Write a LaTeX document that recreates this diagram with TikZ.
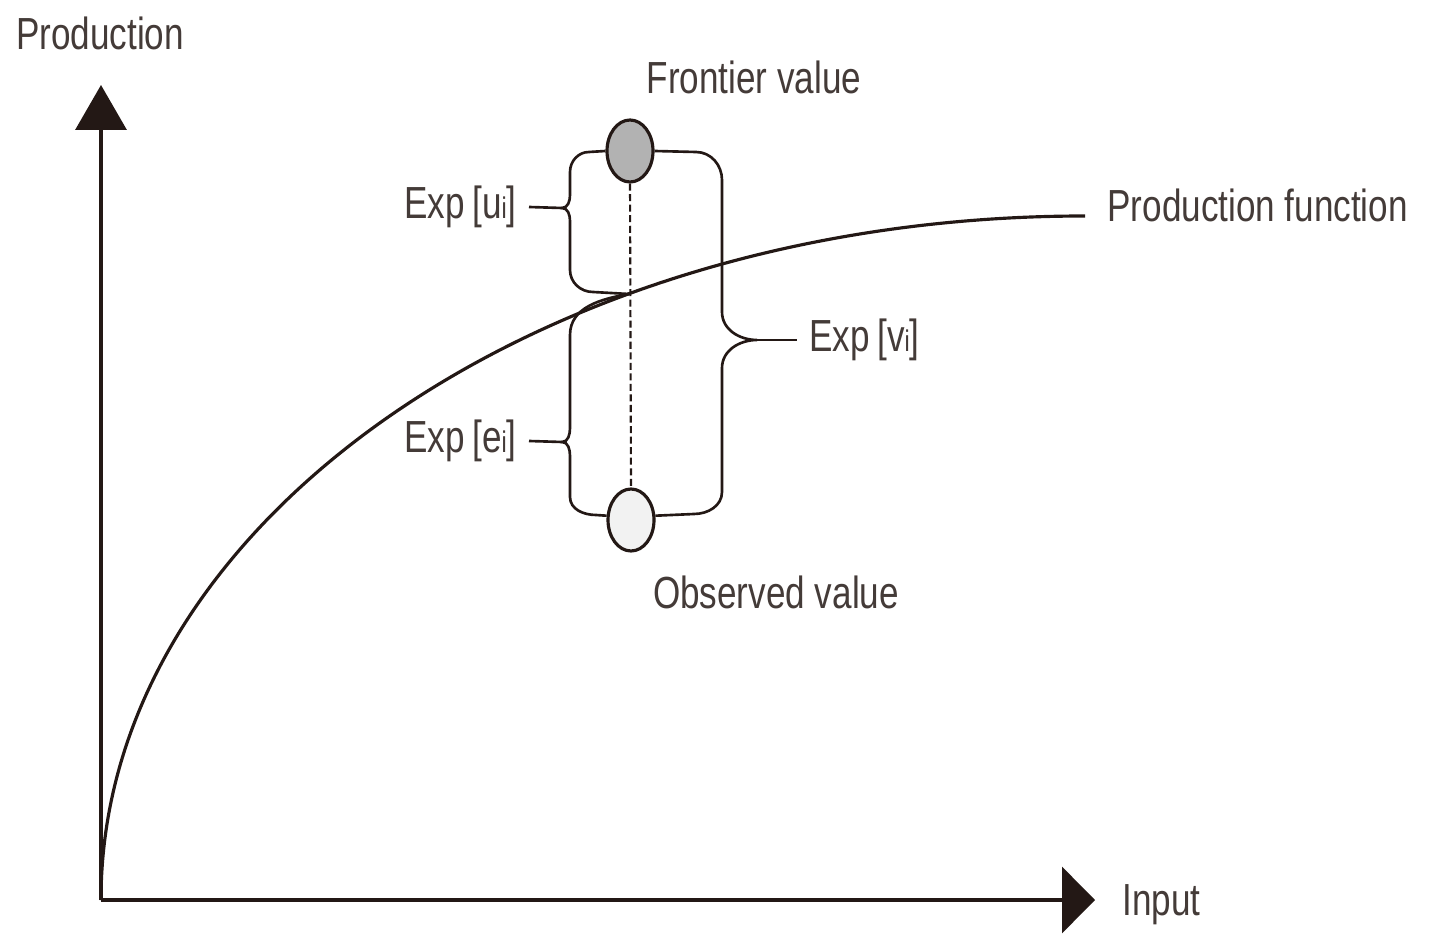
\documentclass[tikz,border=0pt]{standalone}
\usepackage{fontspec}
\setmainfont{Liberation Sans}[FakeStretch=0.78]
\usepackage{xcolor}
\usetikzlibrary{arrows.meta,shapes.geometric}
\definecolor{ink}{HTML}{231815}
\newcommand{\sbi}{{\fontsize{8.5}{10}\selectfont i}}

\begin{document}
\begin{tikzpicture}[
  lbl/.style={font=\fontsize{12.8}{15}\selectfont,text=ink!85},
  brace/.style={draw=ink,line width=0.75pt},
  dot/.style={ellipse,draw=ink,line width=0.9pt,minimum width=4.6mm,minimum height=6.2mm,inner sep=0pt}]
  \useasboundingbox (-1.01,-0.35) rectangle (13.28,9.00);
  \coordinate (o) at (0,0);
  \coordinate (ytip) at (0,8.15);
  \coordinate (xtip) at (9.94,0);
  \draw[ink,line width=1pt,-{Triangle[length=4.5mm,width=5.1mm]}] (o) -- (ytip);
  \draw[ink,line width=1pt,-{Triangle[length=3.3mm,width=6.6mm]}] (o) -- (xtip);
  \node[lbl] (prod) at (-0.01,8.67) {Production};
  \node[lbl,anchor=west] (input) at (10.09,-0.05) {Input};
  \draw[ink,line width=0.9pt] (o) arc[start angle=180,end angle=90,x radius=9.84,y radius=6.84] coordinate (pfend);
  \node[lbl,anchor=west] (pf) at (9.94,6.95) {Production function};
  \coordinate (cross) at (5.28,6.06);

  \node[dot,fill=black!30] (top) at (5.29,7.49) {};
  \node[dot,fill=black!5] (bot) at (5.30,3.80) {};
  \node[lbl] (fv) at (6.53,8.23) {Frontier value};
  \node[lbl] (ov) at (6.75,3.08) {Observed value};
  \draw[ink,line width=0.6pt,dash pattern=on 2pt off 1pt] (top.south) -- (bot.north);

  \node[lbl,anchor=east] (ui) at (4.28,6.93) {Exp\,[u\sbi]};
  \node[lbl,anchor=east] (ei) at (4.28,4.59) {Exp\,[e\sbi]};
  \node[lbl,anchor=west] (vi) at (6.96,5.60) {Exp\,[v\sbi]};
  \coordinate (utip) at (4.61,6.92);
  \coordinate (etip) at (4.61,4.58);
  \coordinate (vtip) at (6.56,5.60);

  \draw[brace] (top.west) -- (4.88,7.48) to[out=180,in=90] (4.69,7.28) -- (4.69,7.05)
    to[out=-90,in=0] (utip) to[out=0,in=90] (4.69,6.79) -- (4.69,6.30)
    to[out=-90,in=180] (4.92,6.08) -- (cross);
  \draw[brace] (utip) -- (ui.east);
  \draw[brace] (cross) to[out=190,in=90] (4.69,5.65) -- (4.69,4.72)
    to[out=-90,in=0] (etip) to[out=0,in=90] (4.69,4.44) -- (4.69,4.03)
    to[out=-90,in=180] (4.95,3.85) -- (bot.170);
  \draw[brace] (etip) -- (ei.east);
  \draw[brace] (top.east) -- (5.95,7.48) to[out=0,in=90] (6.21,7.20) -- (6.21,5.88)
    to[out=-90,in=180] (vtip) to[out=180,in=90] (6.21,5.32) -- (6.21,4.08)
    to[out=-90,in=0] (5.93,3.86) -- (bot.10);
  \draw[brace] (vtip) -- (vi.west);
\end{tikzpicture}
\end{document}
